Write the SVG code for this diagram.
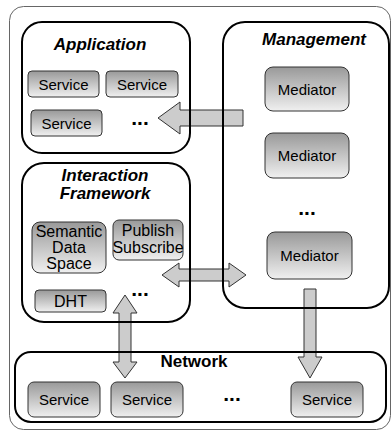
<svg xmlns="http://www.w3.org/2000/svg" width="391" height="432" viewBox="0 0 391 432">
<defs>
<linearGradient id="g" x1="0" y1="0" x2="0" y2="1">
<stop offset="0" stop-color="#999999"/>
<stop offset="1" stop-color="#f0f0f0"/>
</linearGradient>
<style>
.frame{fill:none;stroke:#000;stroke-width:2}
.outer{fill:#fff;stroke:#666;stroke-width:1}
.box{fill:url(#g);stroke:#333;stroke-width:1}
.t{font-family:"Liberation Sans",Arial,sans-serif;font-size:15px;fill:#000;text-anchor:middle}
.t16{font-size:16px}
.h{font-family:"Liberation Sans",Arial,sans-serif;font-size:17px;font-weight:bold;font-style:italic;text-anchor:middle}
.hn{font-style:normal}
.dots{font-family:"Liberation Sans",Arial,sans-serif;font-size:21px;font-weight:bold;text-anchor:middle}
.arrow{fill:#cccccc;stroke:#333;stroke-width:1;stroke-linejoin:miter}
</style>
</defs>
<rect class="outer" x="9.5" y="6.5" width="381" height="423" rx="14"/>
<g id="connectors">
<polygon class="arrow" points="158,118 180,102 180,110 243,110 243,126 180,126 180,134"/>
<polygon class="arrow" points="162,275 179,263 179,269 229,269 229,263 246,275 229,287 229,281 179,281 179,287"/>
<polygon class="arrow" points="125,295 137,313 131,313 131,362 137,362 125,378 113,362 119,362 119,313 113,313"/>
<polygon class="arrow" points="304,289 316,289 316,357 322,357 310,378 298,357 304,357"/>
</g>
<g id="application">
<rect class="frame" x="22" y="22" width="168" height="131" rx="20"/>
<text class="h" x="100" y="50">Application</text>
<rect class="box" x="28" y="71" width="71" height="26" rx="4"/>
<text class="t" x="63.5" y="89.5">Service</text>
<rect class="box" x="106" y="71" width="72" height="26" rx="4"/>
<text class="t" x="142" y="89.5">Service</text>
<rect class="box" x="31" y="110" width="71" height="26" rx="4"/>
<text class="t" x="66.5" y="128.5">Service</text>
<text class="dots" x="140" y="125">...</text>
</g>
<g id="management">
<rect class="frame" x="223" y="22" width="166" height="286" rx="22"/>
<text class="h" x="314" y="45">Management</text>
<rect class="box" x="265" y="67" width="84" height="44" rx="8"/>
<text class="t" x="307" y="94.5">Mediator</text>
<rect class="box" x="265" y="133" width="84" height="45" rx="8"/>
<text class="t" x="307" y="161">Mediator</text>
<text class="dots" x="307" y="215">...</text>
<rect class="box" x="267" y="232" width="85" height="47" rx="8"/>
<text class="t" x="309.5" y="261">Mediator</text>
</g>
<g id="interaction-framework">
<rect class="frame" x="22" y="163" width="168" height="159" rx="22"/>
<text class="h" x="105" y="181">Interaction</text>
<text class="h" x="105" y="199">Framework</text>
<rect class="box" x="32" y="222" width="74" height="51" rx="8"/>
<text class="t t16" x="69" y="237">Semantic</text>
<text class="t t16" x="69" y="253">Data</text>
<text class="t t16" x="69" y="269">Space</text>
<rect class="box" x="113" y="220" width="70" height="40" rx="6"/>
<text class="t t16" x="148" y="236">Publish</text>
<text class="t t16" x="148" y="253">Subscribe</text>
<rect class="box" x="35" y="290" width="71" height="22" rx="4"/>
<text class="t t16" x="70.5" y="307">DHT</text>
<text class="dots" x="140" y="296">...</text>
</g>
<g id="network">
<rect class="frame" x="15" y="352" width="371" height="70" rx="16"/>
<text class="h hn" x="194" y="367">Network</text>
<rect class="box" x="28" y="382" width="72" height="35" rx="6"/>
<text class="t" x="64" y="405">Service</text>
<rect class="box" x="111" y="382" width="72" height="35" rx="6"/>
<text class="t" x="147" y="405">Service</text>
<text class="dots" x="232" y="401">...</text>
<rect class="box" x="291" y="382" width="72" height="35" rx="6"/>
<text class="t" x="327" y="405">Service</text>
</g>
</svg>
